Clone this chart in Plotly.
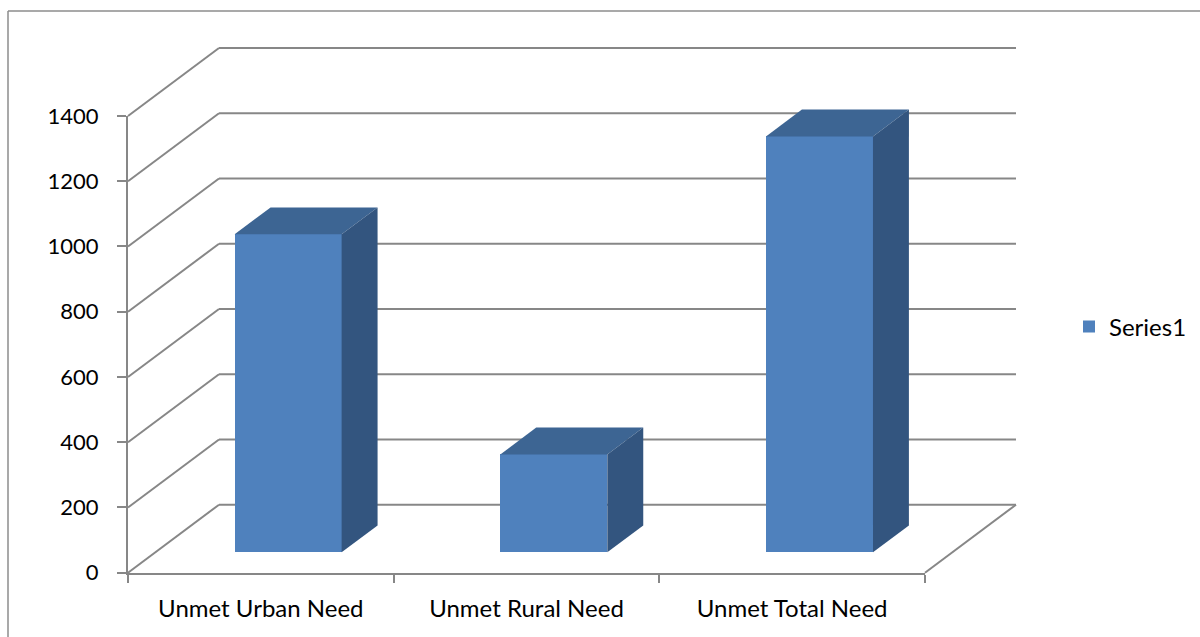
import plotly.graph_objects as go

# ---- data ----
categories = ["Unmet Urban Need", "Unmet Rural Need", "Unmet Total Need"]
values = [975, 300, 1275]
series_name = "Series1"
y_ticks = [0, 200, 400, 600, 800, 1000, 1200, 1400]

# ---- geometry / style (pixel layout of the 3D frame) ----
W_PX, H_PX = 1200, 637
X_LEFT_PX, X_RIGHT_PX = 128.0, 925.0      # front axis extent
Y_ZERO_PX, Y_TOP_PX = 572.7, 116.0        # front axis 0 and max
Y_MAX = 1400
n = len(categories)
CW = (X_RIGHT_PX - X_LEFT_PX) / n         # px per category
S = (Y_ZERO_PX - Y_TOP_PX) / Y_MAX        # px per value unit
DEPTH_DX_PX, DEPTH_DY_PX = 91.0, 68.0
DX = DEPTH_DX_PX / CW                     # depth shift in x units
DY = DEPTH_DY_PX / S                      # depth shift in y units
F0, F1 = 0.30, 0.695                      # bar front / back depth fraction
BAR_W = 107.0 / CW

GRID = "#878787"
FRONT = "#4F81BD"
TOP = "#3D6593"
SIDE = "#33557F"
FONT = "Lato"

x_rng = [-0.5 - X_LEFT_PX / CW, -0.5 + (W_PX - X_LEFT_PX) / CW]
y_rng = [-(H_PX - Y_ZERO_PX) / S, Y_ZERO_PX / S]

fig = go.Figure()

# front faces of the bars (real bar trace)
base = F0 * DY
fig.add_trace(go.Bar(
    x=list(range(n)), y=values, base=[base] * n,
    width=BAR_W, offset=-BAR_W / 2 + F0 * DX,
    marker=dict(color=FRONT, line=dict(width=0)),
    name=series_name, showlegend=True, hoverinfo="skip",
    xaxis="x", yaxis="y",
))

# top and side faces
ddx = (F1 - F0) * DX
ddy = (F1 - F0) * DY
for i, v in enumerate(values):
    xl = i - BAR_W / 2 + F0 * DX
    xr = xl + BAR_W
    fig.add_trace(go.Scatter(
        x=[xl, xr, xr + ddx, xl + ddx, xl],
        y=[base + v, base + v, base + v + ddy, base + v + ddy, base + v],
        fill="toself", fillcolor=TOP, mode="lines", line=dict(width=0, color=TOP),
        showlegend=False, hoverinfo="skip", xaxis="x", yaxis="y"))
    fig.add_trace(go.Scatter(
        x=[xr, xr, xr + ddx, xr + ddx, xr],
        y=[base, base + v, base + v + ddy, base + ddy, base],
        fill="toself", fillcolor=SIDE, mode="lines", line=dict(width=0, color=SIDE),
        showlegend=False, hoverinfo="skip", xaxis="x", yaxis="y"))

# dummy trace on the visible axis pair
fig.add_trace(go.Scatter(x=[None], y=[None], xaxis="x2", yaxis="y2",
                         showlegend=False, hoverinfo="skip"))

shapes = []
# back-wall gridlines and left-wall diagonals
for t in y_ticks:
    shapes.append(dict(type="line", xref="x", yref="y", layer="below",
                       x0=-0.5 + DX, y0=t + DY, x1=n - 0.5 + DX, y1=t + DY,
                       line=dict(color=GRID, width=2)))
    shapes.append(dict(type="line", xref="x", yref="y", layer="below",
                       x0=-0.5, y0=t, x1=-0.5 + DX, y1=t + DY,
                       line=dict(color=GRID, width=2)))
# floor right edge
shapes.append(dict(type="line", xref="x", yref="y", layer="below",
                   x0=n - 0.5, y0=0, x1=n - 0.5 + DX, y1=DY,
                   line=dict(color=GRID, width=2)))
# outer border (cropped chart area)
shapes.append(dict(type="line", xref="paper", yref="paper",
                   x0=8 / W_PX, y0=1 - 11 / H_PX, x1=1.01, y1=1 - 11 / H_PX,
                   line=dict(color="#8C8C8C", width=1.5)))
shapes.append(dict(type="line", xref="paper", yref="paper",
                   x0=8 / W_PX, y0=1 - 11 / H_PX, x1=8 / W_PX, y1=-0.01,
                   line=dict(color="#8C8C8C", width=1.5)))

fig.update_layout(
    template="none",
    width=W_PX, height=H_PX,
    margin=dict(l=0, r=0, t=0, b=0, pad=0, autoexpand=False),
    paper_bgcolor="white", plot_bgcolor="rgba(0,0,0,0)",
    font=dict(family=FONT, size=21, color="black"),
    bargap=0,
    shapes=shapes,
    showlegend=True,
    legend=dict(x=1069 / W_PX, y=1 - 327 / H_PX, xanchor="left", yanchor="middle",
                bgcolor="rgba(0,0,0,0)", borderwidth=0,
                font=dict(family=FONT, size=24, color="black"),
                itemwidth=30),
    xaxis=dict(domain=[0, 1], range=x_rng, visible=False, fixedrange=True,
               automargin=False),
    yaxis=dict(domain=[0, 1], range=y_rng, visible=False, fixedrange=True,
               automargin=False),
    xaxis2=dict(domain=[X_LEFT_PX / W_PX, X_RIGHT_PX / W_PX], range=[-0.5, n - 0.5],
                anchor="y2", showline=True, linecolor=GRID, linewidth=2,
                showgrid=False, zeroline=False, automargin=False,
                tickmode="array", tickvals=list(range(n)), ticktext=categories,
                ticks="outside", ticklen=8, tickcolor="rgba(0,0,0,0)",
                ticklabelstandoff=5,
                minor=dict(tickmode="array", tickvals=[i - 0.5 for i in range(n + 1)],
                           ticks="outside", ticklen=8, tickwidth=2, tickcolor=GRID,
                           showgrid=False),
                tickfont=dict(family=FONT, size=24, color="black"), fixedrange=True),
    yaxis2=dict(domain=[(H_PX - Y_ZERO_PX) / H_PX, (H_PX - Y_TOP_PX) / H_PX],
                range=[0, Y_MAX], anchor="x2", showline=True, linecolor=GRID, linewidth=2,
                showgrid=False, zeroline=False, automargin=False,
                tickmode="array", tickvals=y_ticks,
                ticks="outside", ticklen=9, tickwidth=2, tickcolor=GRID,
                ticklabelstandoff=14,
                tickfont=dict(family=FONT, size=22, color="black"), fixedrange=True),
)

fig.write_html("out.html", config={"displayModeBar": False})
